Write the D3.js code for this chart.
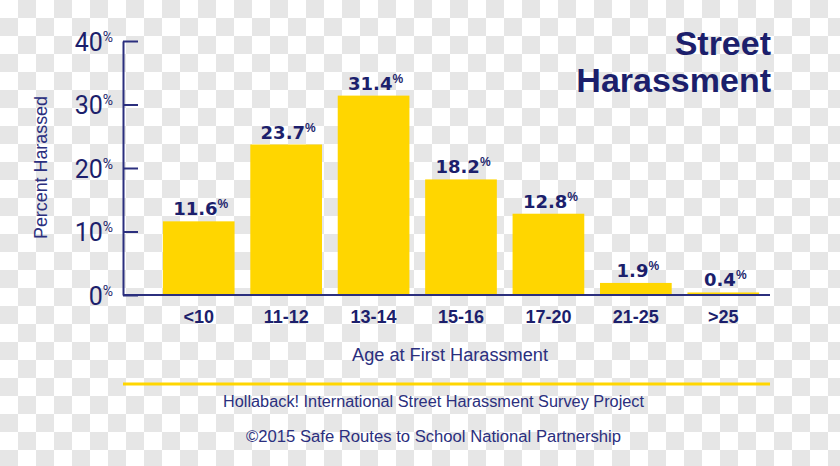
<!DOCTYPE html>
<html>
<head>
<meta charset="utf-8">
<script src="https://cdn.jsdelivr.net/npm/d3@7"></script>
<style>
  html, body { margin: 0; padding: 0; background: #fff; }
  svg { display: block; }
</style>
</head>
<body>
<svg id="chart" width="840" height="466"></svg>
<script>
// ---- data ----
const categories = ["<10", "11-12", "13-14", "15-16", "17-20", "21-25", ">25"];
const values = [11.6, 23.7, 31.4, 18.2, 12.8, 1.9, 0.4];
const yTicks = [0, 10, 20, 30, 40];
const titleLines = ["Street", "Harassment"];
const yAxisTitle = "Percent Harassed";
const xAxisTitle = "Age at First Harassment";
const footerLines = [
  "Hollaback! International Street Harassment Survey Project",
  "\u00A92015 Safe Routes to School National Partnership"
];

// ---- styles ----
const NAVY = "#1c1f6c";
const NAVY_LIGHT = "#2b2f7e";
const YELLOW = "#ffd600";
const CHECK = "#e6e6e6";

const svg = d3.select("#chart");
const W = 840, H = 466, CELL = 18;

// checkerboard background (transparent-image look)
const cells = [];
for (let r = 0; r * CELL < H; r++)
  for (let c = 0; c * CELL < W; c++)
    if ((r + c) % 2 === 1) cells.push([c, r]);
const bg = svg.append("g");
bg.append("rect").attr("width", W).attr("height", H).style("fill", "#ffffff");
bg.selectAll("rect.cell").data(cells).join("rect").attr("class", "cell")
  .attr("x", d => d[0] * CELL).attr("y", d => d[1] * CELL)
  .attr("width", CELL).attr("height", CELL).style("fill", CHECK);

// layout
const axisX = 123, axisRight = 770;
const y = d3.scaleLinear().domain([0, 40]).range([295, 41]);
const x = d3.scaleBand().domain(categories).range([155, 767])
  .paddingInner(0.18).paddingOuter(0.09);

// bars
svg.append("g").selectAll("rect").data(values).join("rect")
  .attr("x", (d, i) => x(categories[i]))
  .attr("y", d => y(d))
  .attr("width", x.bandwidth())
  .attr("height", d => y(0) - y(d))
  .attr("fill", YELLOW);

// value labels
const vl = svg.append("g").selectAll("text").data(values).join("text")
  .attr("x", (d, i) => x(categories[i]) + x.bandwidth() / 2 + 2)
  .attr("y", d => y(d) - 6)
  .attr("text-anchor", "middle")
  .attr("fill", NAVY)
  .attr("font-family", "'DejaVu Sans', sans-serif")
  .attr("font-weight", "bold")
  .attr("font-size", 18);
vl.append("tspan").text(d => d.toFixed(1));
vl.append("tspan").attr("dy", -7).attr("font-size", 12)
  .attr("font-family", "'Liberation Sans', Arial, sans-serif").text("%");

// y axis
const yAxis = d3.axisLeft(y).tickValues(yTicks).tickSizeInner(-15).tickSizeOuter(0).tickPadding(10)
  .tickFormat(d => d);
const gy = svg.append("g").attr("transform", `translate(${axisX},0)`).call(yAxis);
gy.select(".domain").attr("stroke", NAVY_LIGHT).attr("stroke-width", 2);
gy.selectAll(".tick line").attr("stroke", NAVY_LIGHT).attr("stroke-width", 2);
gy.selectAll(".tick text").each(function(d) {
  const t = d3.select(this);
  t.text(null)
   .attr("fill", NAVY)
   .attr("font-family", "Roboto, sans-serif")
   .attr("font-weight", 400)
   .attr("font-size", 25)
   .attr("dy", "0.36em");
  t.append("tspan").text(d);
  t.append("tspan").attr("dy", -9).attr("font-size", 14).text("%");
});

// x baseline
svg.append("line")
  .attr("x1", axisX).attr("x2", axisRight)
  .attr("y1", y(0)).attr("y2", y(0))
  .attr("stroke", NAVY_LIGHT).attr("stroke-width", 2);

// x axis labels
const xAxis = d3.axisBottom(x).tickSize(0).tickPadding(0);
const gx = svg.append("g").attr("transform", `translate(0,${y(0)})`).call(xAxis);
gx.select(".domain").remove();
gx.selectAll(".tick text")
  .attr("y", 28).attr("dy", 0)
  .attr("fill", NAVY)
  .attr("font-family", "'Liberation Sans', Arial, sans-serif")
  .attr("font-weight", "bold")
  .attr("font-size", 18);

// axis titles
svg.append("text")
  .attr("transform", "translate(47,167.5) rotate(-90)")
  .attr("text-anchor", "middle")
  .attr("fill", NAVY_LIGHT)
  .attr("font-family", "'Liberation Sans', Arial, sans-serif")
  .attr("font-size", 19)
  .attr("textLength", 143).attr("lengthAdjust", "spacingAndGlyphs")
  .text(yAxisTitle);

svg.append("text")
  .attr("x", 450).attr("y", 361)
  .attr("text-anchor", "middle")
  .attr("fill", NAVY_LIGHT)
  .attr("font-family", "'Liberation Sans', Arial, sans-serif")
  .attr("font-size", 18)
  .attr("textLength", 196).attr("lengthAdjust", "spacingAndGlyphs")
  .text(xAxisTitle);

// title
svg.append("g").selectAll("text").data(titleLines).join("text")
  .attr("x", 771)
  .attr("y", (d, i) => 55 + i * 36.7)
  .attr("text-anchor", "end")
  .attr("fill", NAVY)
  .attr("font-family", "'Liberation Sans', Arial, sans-serif")
  .attr("font-weight", "bold")
  .attr("font-size", 34)
  .text(d => d);

// footer rule
svg.append("line")
  .attr("x1", axisX).attr("x2", axisRight)
  .attr("y1", 384).attr("y2", 384)
  .attr("stroke", YELLOW).attr("stroke-width", 3);

// footer text
const footerWidths = [421, 375];
svg.append("g").selectAll("text").data(footerLines).join("text")
  .attr("x", 433.5)
  .attr("y", (d, i) => 407 + i * 34.5)
  .attr("text-anchor", "middle")
  .attr("fill", NAVY_LIGHT)
  .attr("font-family", "'Liberation Sans', Arial, sans-serif")
  .attr("font-size", 16)
  .attr("textLength", (d, i) => footerWidths[i]).attr("lengthAdjust", "spacingAndGlyphs")
  .text(d => d);
</script>
</body>
</html>
